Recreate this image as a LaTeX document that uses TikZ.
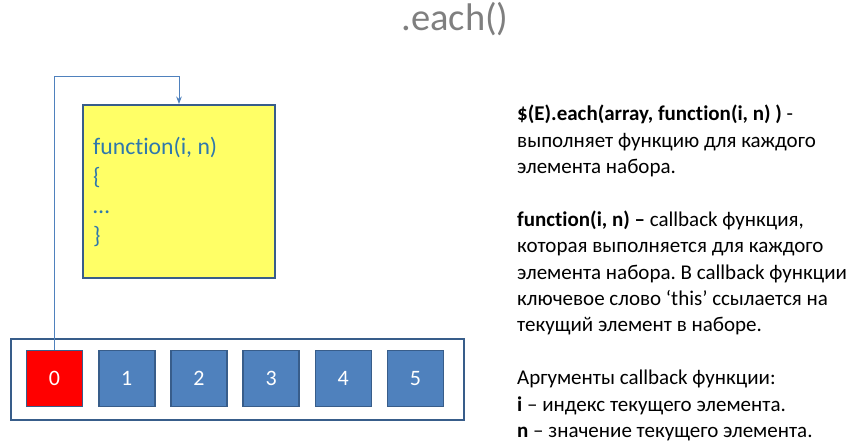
\documentclass[tikz,border=0pt]{standalone}
\usepackage{fontspec}
\setmainfont[Ligatures=NoCommon]{Carlito}
\usetikzlibrary{arrows.meta,positioning}
\definecolor{cellblue}{HTML}{4F81BD}
\definecolor{celledge}{HTML}{385D8A}
\definecolor{cbyellow}{HTML}{FFFF66}
\definecolor{codeblue}{HTML}{2F78AC}
\definecolor{titlegray}{HTML}{7F7F7F}
\frenchspacing
\begin{document}
\begin{tikzpicture}[x=1pt,y=-1pt,>=Stealth,
  cell/.style={draw=celledge, line width=1.6pt, fill=cellblue, text=white,
    minimum width=56pt, minimum height=56pt, inner sep=0pt,
    font=\fontsize{22}{26}\selectfont}]
  \useasboundingbox (0,0) rectangle (859,444);
  \node[font=\fontsize{38.5}{44}\selectfont, text=titlegray] (title) at (455,19) {.each()};
  % callback box
  \node[draw=celledge, line width=2pt, fill=cbyellow, minimum width=192pt,
    minimum height=173pt, anchor=north west] (callback) at (82,104) {};
  \node[anchor=north west, align=left, text=codeblue, inner sep=0pt,
    font=\fontsize{23.7}{29.7}\selectfont] (code) at (93,137)
    {function(i, n)\\ \{\\ \dots\\ \}};
  % array of elements
  \node[draw=celledge, line width=1.8pt, minimum width=453pt, minimum height=81pt,
    anchor=north west] (array) at (10,338) {};
  \node[cell, fill=red] (c0) at (54.5,378.5) {0};
  \foreach \i in {1,...,5}
    \node[cell] (c\i) at ({54.5+72.2*\i},378.5) {\i};
  % loop arrow
  \coordinate (loop) at (0,76);
  \draw[->, cellblue, line width=1pt] (c0.north) -- (c0.north |- loop)
    -- (callback.north |- loop) -- (callback.north);
  % description
  \node[anchor=north west, align=left, inner sep=0pt,
    font=\fontsize{21}{26.4}\selectfont] (desc) at (517,105)
    {\textbf{\$(E).each(array, function(i, n) )} -\\
     выполняет функцию для каждого\\
     элемента набора.\\[26.4pt]
     \textbf{function(i, n) –} callback функция,\\
     которая выполняется для каждого\\
     элемента набора. В callback функции\\
     ключевое слово ‘this’ ссылается на\\
     текущий элемент в наборе.\\[26.4pt]
     Аргументы callback функции:\\
     \textbf{i} – индекс текущего элемента.\\
     \textbf{n} – значение текущего элемента.};
\end{tikzpicture}
\end{document}
